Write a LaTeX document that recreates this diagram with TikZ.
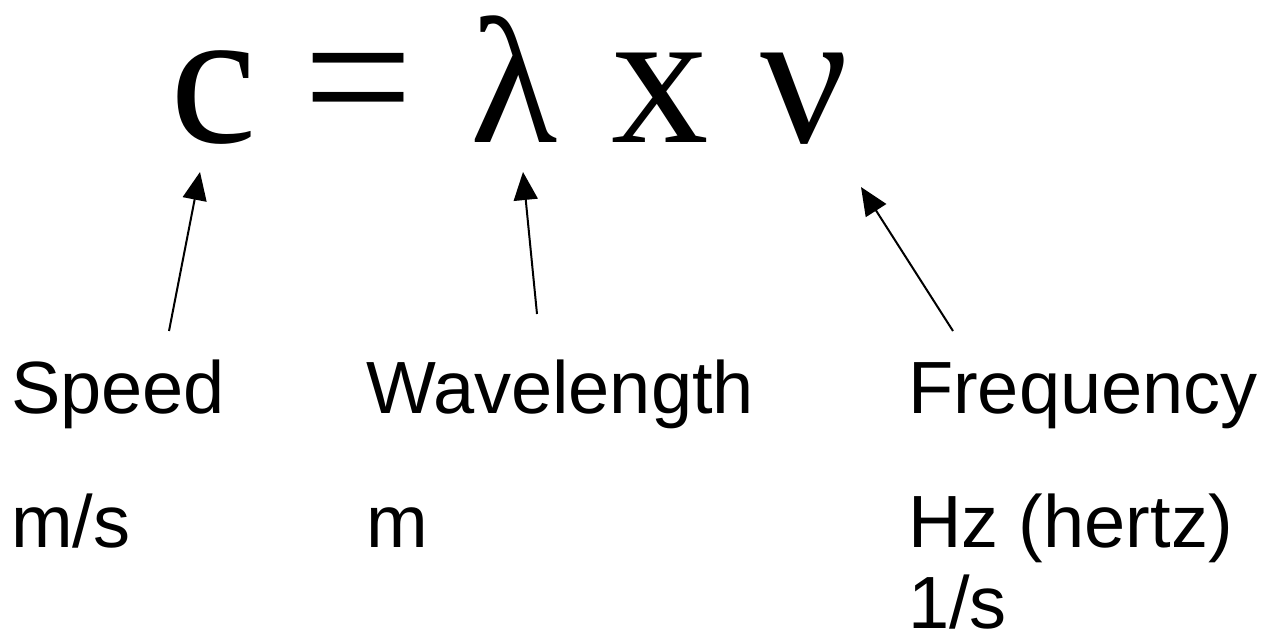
\documentclass[tikz,border=0pt]{standalone}
\usepackage{fontspec}
\setmainfont{Liberation Serif}
\newfontfamily\labelfont{Liberation Sans}
\usetikzlibrary{arrows.meta}
\tikzset{
  eqglyph/.style={inner sep=0pt, outer sep=0pt, anchor=base, font=\fontsize{195bp}{200bp}\selectfont},
  lbl/.style={inner sep=0pt, outer sep=0pt, anchor=base west, font=\labelfont\fontsize{74bp}{83bp}\selectfont},
  pointer/.style={line width=2bp, -{Triangle[length=28bp,width=24bp]}}
}
\begin{document}
\begin{tikzpicture}[x=1bp,y=-1bp]
\useasboundingbox (0,0) rectangle (1268,641);
% equation
\node[eqglyph] (c) at (213.5,143) {c};
\node[eqglyph] (eq) at (358.5,143) {=};
\node[eqglyph, font=\fontsize{180bp}{190bp}\selectfont] (lam) at (514,143) {λ};
\node[eqglyph] (times) at (660.5,143) {x};
\node[eqglyph] (nu) at (805,143) {ν};
% labels
\node[lbl] (speed) at (11,413) {Speed};
\node[lbl] (wave) at (366,413) {Wavelength};
\node[lbl] (freq) at (908,413) {Frequency};
\node[lbl] (ms) at (11,547) {m/s};
\node[lbl] (m) at (366,547) {m};
\node[lbl] (hz) at (908,547) {Hz (hertz)};
\node[lbl] (pers) at (908,628) {1/s};
% arrow ends
\coordinate (t1) at (169,331);
\coordinate (h1) at (200,172);
\coordinate (t2) at (537,314);
\coordinate (h2) at (523,172);
\coordinate (t3) at (953,331);
\coordinate (h3) at (861,187);
\draw[pointer] (t1) -- (h1);
\draw[pointer] (t2) -- (h2);
\draw[pointer] (t3) -- (h3);
\end{tikzpicture}
\end{document}
